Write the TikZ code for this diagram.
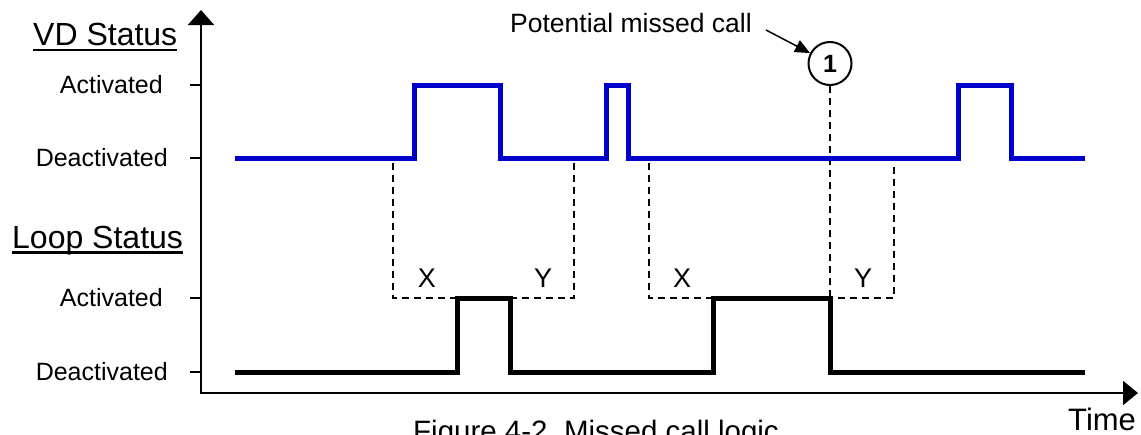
\documentclass[tikz,border=0pt]{standalone}
\usepackage{fontspec}
\setmainfont{Liberation Sans}
\usetikzlibrary{arrows.meta,calc}
\definecolor{vdblue}{RGB}{0,0,204}
\begin{document}
\begin{tikzpicture}[x=1pt,y=-1pt,
  lbl/.style={font=\fontsize{25}{30}\selectfont, inner sep=0, anchor=east},
  head/.style={font=\fontsize{32}{38}\selectfont, inner sep=0, anchor=base west},
  xy/.style={font=\fontsize{27}{32}\selectfont, inner sep=0, anchor=base},
  vdsig/.style={draw=vdblue, line width=5pt, line join=miter},
  loopsig/.style={draw=black, line width=5pt, line join=miter},
  guide/.style={draw=black, line width=1.3pt, dash pattern=on 7pt off 5pt},
  axisline/.style={draw=black, line width=1.8pt, line join=miter},
  tickline/.style={draw=black, line width=1.8pt},
  callout/.style={circle, draw=black, line width=2pt, minimum size=43pt, inner sep=0,
                  font=\fontsize{25}{30}\selectfont\bfseries},
  pointer/.style={draw=black, line width=1.5pt, -{Triangle[length=15pt,width=13pt]}}
]
\clip (0,0) rectangle (1141,434);
\fill[white] (0,0) rectangle (1141,434);

% axes
\coordinate (o) at (201,393);
\coordinate (ytop) at (201,10);
\coordinate (xend) at (1138,393);
\draw[axisline, {Triangle[length=15pt,width=26pt]}-{Triangle[length=15pt,width=24pt]}] (ytop) -- (o) -- (xend);

% ticks
\foreach \yy/\nm in {85/va,158/vd,298/la,372/ld}{
  \coordinate (t\nm) at (190,\yy);
  \coordinate (a\nm) at (201,\yy);
  \draw[tickline] (t\nm) -- (a\nm);
}

% headings and labels
\node[head] (vdh) at (33,45) {VD Status};
\draw[line width=2.5pt] ($(vdh.base west)+(0,5)$) -- ($(vdh.base east)+(0,5)$);
\node[head] (lph) at (12,248) {Loop Status};
\draw[line width=2.5pt] ($(lph.base west)+(0,4.5)$) -- ($(lph.base east)+(0,4.5)$);

\node[lbl] (lva) at (163,85) {Activated};
\node[lbl] (lvd) at (168,158) {Deactivated};
\node[lbl] (lla) at (163,298) {Activated};
\node[lbl] (lld) at (168,372) {Deactivated};

% guides
\node[callout] (c1) at (830,63.5) {1};
\coordinate (g1a) at (393,163);
\coordinate (g1b) at (574,298);
\coordinate (g1c) at (574,163);
\coordinate (g2a) at (649,163);
\coordinate (g2b) at (894,298);
\coordinate (g2c) at (894,163);
\coordinate (gm) at (830,298);
\draw[guide] (g1a) |- (g1b) -- (g1c);
\draw[guide] (g2a) |- (g2b) -- (g2c);
\draw[guide] (c1.south) -- (gm);

\node[xy] (x1) at (427,287) {X};
\node[xy] (y1) at (543,287) {Y};
\node[xy] (x2) at (682,287) {X};
\node[xy] (y2) at (863,287) {Y};

% signals
\draw[vdsig] (235,158) -| (414,85) -| (500,158) -| (606,85) -| (628,158) -| (958,85) -| (1011,158) -- (1085,158);
\draw[loopsig] (235,372) -| (457,298) -| (510,372) -| (713,298) -| (830,372) -- (1085,372);

% callout
\node[font=\fontsize{26.5}{31}\selectfont, inner sep=0, anchor=base west] (pmc) at (510,32) {Potential missed call};
\coordinate (pstart) at (766,30);
\draw[pointer] (pstart) -- (c1);

% axis title and caption
\node[font=\fontsize{31}{37}\selectfont, inner sep=0, anchor=base west] (time) at (1068,430) {Time};
\node[font=\fontsize{29.5}{35}\selectfont, inner sep=0, anchor=base west] (cap) at (413,441) {Figure 4-2\ \ Missed call logic};
\end{tikzpicture}
\end{document}
